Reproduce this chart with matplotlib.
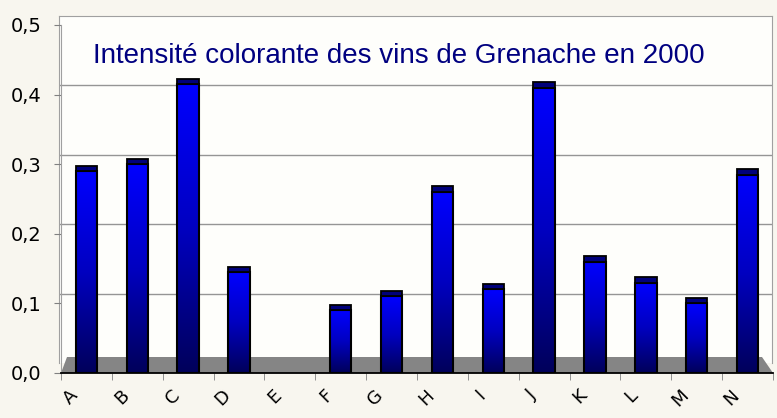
import numpy as np
import matplotlib
matplotlib.use("Agg")
import matplotlib.pyplot as plt
from matplotlib.patches import Polygon
from matplotlib.colors import LinearSegmentedColormap
from matplotlib.ticker import FuncFormatter
import matplotlib.transforms as mtransforms

# valeurs
vins = ["A", "B", "C", "D", "E", "F", "G", "H", "I", "J", "K", "L", "M", "N"]
intensite = [0.29, 0.30, 0.415, 0.145, 0.0, 0.09, 0.11, 0.26, 0.12, 0.41, 0.16, 0.13, 0.10, 0.285]
titre = "Intensité colorante des vins de Grenache en 2000"

W, H = 777, 418
fig = plt.figure(figsize=(W / 100, H / 100), dpi=100)
fig.patch.set_facecolor("#F8F6EF")


def boite(x0, y0, x1, y1):
    # pixels (haut-gauche) -> fraction de figure
    return [x0 / W, 1 - y1 / H, (x1 - x0) / W, (y1 - y0) / H]


# mur du fond avec le quadrillage
fond = fig.add_axes(boite(59, 16, 772, 363))
fond.set_facecolor("#FEFEFB")
fond.set_xlim(0, 1)
fond.set_ylim(0, 0.5)
fond.set_xticks([])
fond.set_yticks([0.1, 0.2, 0.3, 0.4])
fond.tick_params(left=False, labelleft=False)
fond.grid(axis="y", color="#959595", lw=1)
for s in ["left", "top", "right"]:
    fond.spines[s].set_color("#A0A0A0")
fond.spines["bottom"].set_visible(False)

# axes principaux
ax = fig.add_axes(boite(61, 25, 773, 373))
ax.patch.set_visible(False)
x = np.arange(len(vins))
ax.set_xlim(-0.5, len(vins) - 0.5)
ax.set_ylim(0, 0.5)

# sol gris
sol = Polygon([(0, 0), (1, 0), ((762 - 61) / 712, 16 / 348), ((67 - 61) / 712, 16 / 348)],
              closed=True, transform=ax.transAxes, facecolor="#858585", edgecolor="none", zorder=0.5)
ax.add_patch(sol)

largeur = 0.42
barres = ax.bar(x, intensite, largeur, color="none", edgecolor="black", lw=1.5, zorder=3)

cmap = LinearSegmentedColormap.from_list("bleu", ["#00005A", "#0000C0", "#0000FF"])
grad = np.linspace(0, 1, 256).reshape(-1, 1)
for xi, v, b in zip(x, intensite, barres):
    if v <= 0:
        b.set_linewidth(0)
        continue
    im = ax.imshow(grad, extent=(xi - largeur / 2, xi + largeur / 2, 0, v), origin="lower",
                   cmap=cmap, aspect="auto", zorder=2.5)
    im.set_clip_path(b)
    # dessus de la colonne
    dy = 0.008
    cap = Polygon([(xi - largeur / 2, v), (xi + largeur / 2, v),
                   (xi + largeur / 2, v + dy), (xi - largeur / 2, v + dy)],
                  closed=True, facecolor="#00007A", edgecolor="black", lw=1.3, zorder=3.5)
    ax.add_patch(cap)

ax.set_xlim(-0.5, len(vins) - 0.5)
ax.set_ylim(0, 0.5)

for s in ["top", "right"]:
    ax.spines[s].set_visible(False)
ax.spines["left"].set_color("#A0A0A0")
ax.spines["bottom"].set_color("black")
ax.spines["bottom"].set_linewidth(1.3)

ax.set_yticks(np.arange(0, 0.51, 0.1))
ax.yaxis.set_major_formatter(FuncFormatter(lambda v, p: f"{v:.1f}".replace(".", ",")))
ax.tick_params(axis="y", length=5, color="#808080", labelsize=14, pad=9)

ax.set_xticks(np.arange(-0.5, len(vins), 1.0), minor=True)
ax.set_xticks(x)
ax.set_xticklabels(vins)
ax.tick_params(axis="x", which="major", length=0, labelsize=13, pad=14)
ax.tick_params(axis="x", which="minor", length=5, color="#808080")
decal = mtransforms.ScaledTranslation(-11 / 100, 0, fig.dpi_scale_trans)
for lab in ax.get_xticklabels():
    lab.set_rotation(45)
    lab.set_ha("right")
    lab.set_va("center")
    lab.set_rotation_mode("anchor")
    lab.set_transform(lab.get_transform() + decal)

fig.text(93 / W, 1 - 63 / H, titre, color="#000080", fontsize=20,
         family="Liberation Sans", ha="left", va="baseline")

fig.savefig("out.png", dpi=100, facecolor=fig.get_facecolor())
